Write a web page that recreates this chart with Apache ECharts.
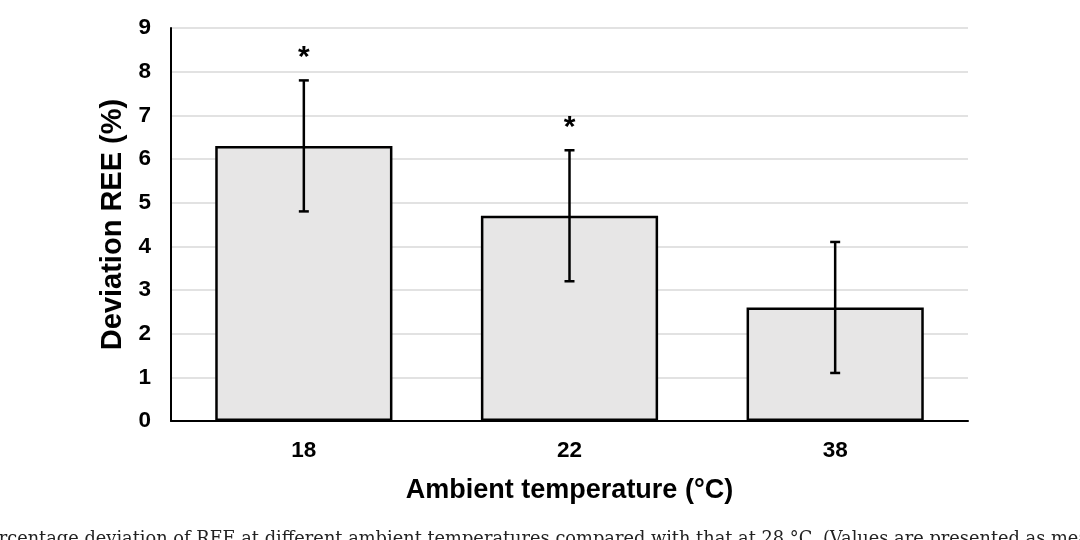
<!DOCTYPE html>
<html><head><meta charset="utf-8">
<script src="https://cdn.jsdelivr.net/npm/echarts@6/dist/echarts.min.js"></script>
<style>html,body{margin:0;padding:0;background:#fff;overflow:hidden}#c{width:1080px;height:540px}</style>
</head><body><div id="c"></div>
<script>
const categories = ['18', '22', '38'];
const means = [6.3, 4.7, 2.6];
const errLow = [4.8, 3.2, 1.1];
const errHigh = [7.8, 6.2, 4.1];
const significance = ['*', '*', ''];
const yTicks = [0, 1, 2, 3, 4, 5, 6, 7, 8, 9];

const chart = echarts.init(document.getElementById('c'), null, {renderer: 'canvas'});
const F = '"Liberation Sans", Arial, sans-serif';
chart.setOption({
  animation: false,
  backgroundColor: '#fff',
  grid: {left: 171, right: 112, top: 28, bottom: 119},
  xAxis: {
    type: 'category', data: categories,
    axisLine: {lineStyle: {color: '#000', width: 2}},
    axisTick: {show: false},
    axisLabel: {color: '#000', fontFamily: F, fontWeight: 'bold', fontSize: 22.5, margin: 18},
    name: 'Ambient temperature (°C)', nameLocation: 'middle', nameGap: 56,
    nameTextStyle: {color: '#000', fontFamily: F, fontWeight: 'bold', fontSize: 27}
  },
  yAxis: {
    type: 'value', min: yTicks[0], max: yTicks[yTicks.length - 1], interval: 1,
    axisLine: {show: true, lineStyle: {color: '#000', width: 2}},
    axisTick: {show: false},
    splitLine: {lineStyle: {color: '#d9d9d9', width: 1.5}},
    axisLabel: {color: '#000', fontFamily: F, fontWeight: 'bold', fontSize: 22.5, margin: 20},
    name: 'Deviation REE (%)', nameLocation: 'middle', nameGap: 43, nameRotate: 90,
    nameTextStyle: {color: '#000', fontFamily: F, fontWeight: 'bold', fontSize: 29}
  },
  series: [
    {
      type: 'bar', data: means, barWidth: '66.7%',
      itemStyle: {color: '#e7e6e6', borderColor: '#000', borderWidth: 2.5}
    },
    {
      type: 'custom',
      data: categories.map((c, i) => [i, errLow[i], errHigh[i]]),
      renderItem: function (params, api) {
        const x = api.value(0);
        const lo = api.coord([x, api.value(1)]);
        const hi = api.coord([x, api.value(2)]);
        const cap = 5;
        const st = {stroke: '#000', lineWidth: 2.5};
        const children = [
          {type: 'line', shape: {x1: lo[0], y1: lo[1], x2: hi[0], y2: hi[1]}, style: st},
          {type: 'line', shape: {x1: hi[0] - cap, y1: hi[1], x2: hi[0] + cap, y2: hi[1]}, style: st},
          {type: 'line', shape: {x1: lo[0] - cap, y1: lo[1], x2: lo[0] + cap, y2: lo[1]}, style: st}
        ];
        const s = significance[params.dataIndex];
        if (s) {
          children.push({type: 'text', x: hi[0], y: hi[1] - 8,
            style: {text: s, fill: '#000', font: 'bold 30px ' + F, align: 'center', verticalAlign: 'bottom'}});
        }
        return {type: 'group', children: children};
      },
      z: 5
    }
  ],
  graphic: [{
    type: 'text', left: -23, top: 530,
    style: {text: 'Percentage deviation of REE at different ambient temperatures compared with that at 28 °C. (Values are presented as mean', fill: '#222',
      font: '17.8px "DejaVu Serif", "Liberation Serif", serif'}
  }]
});
</script></body></html>
